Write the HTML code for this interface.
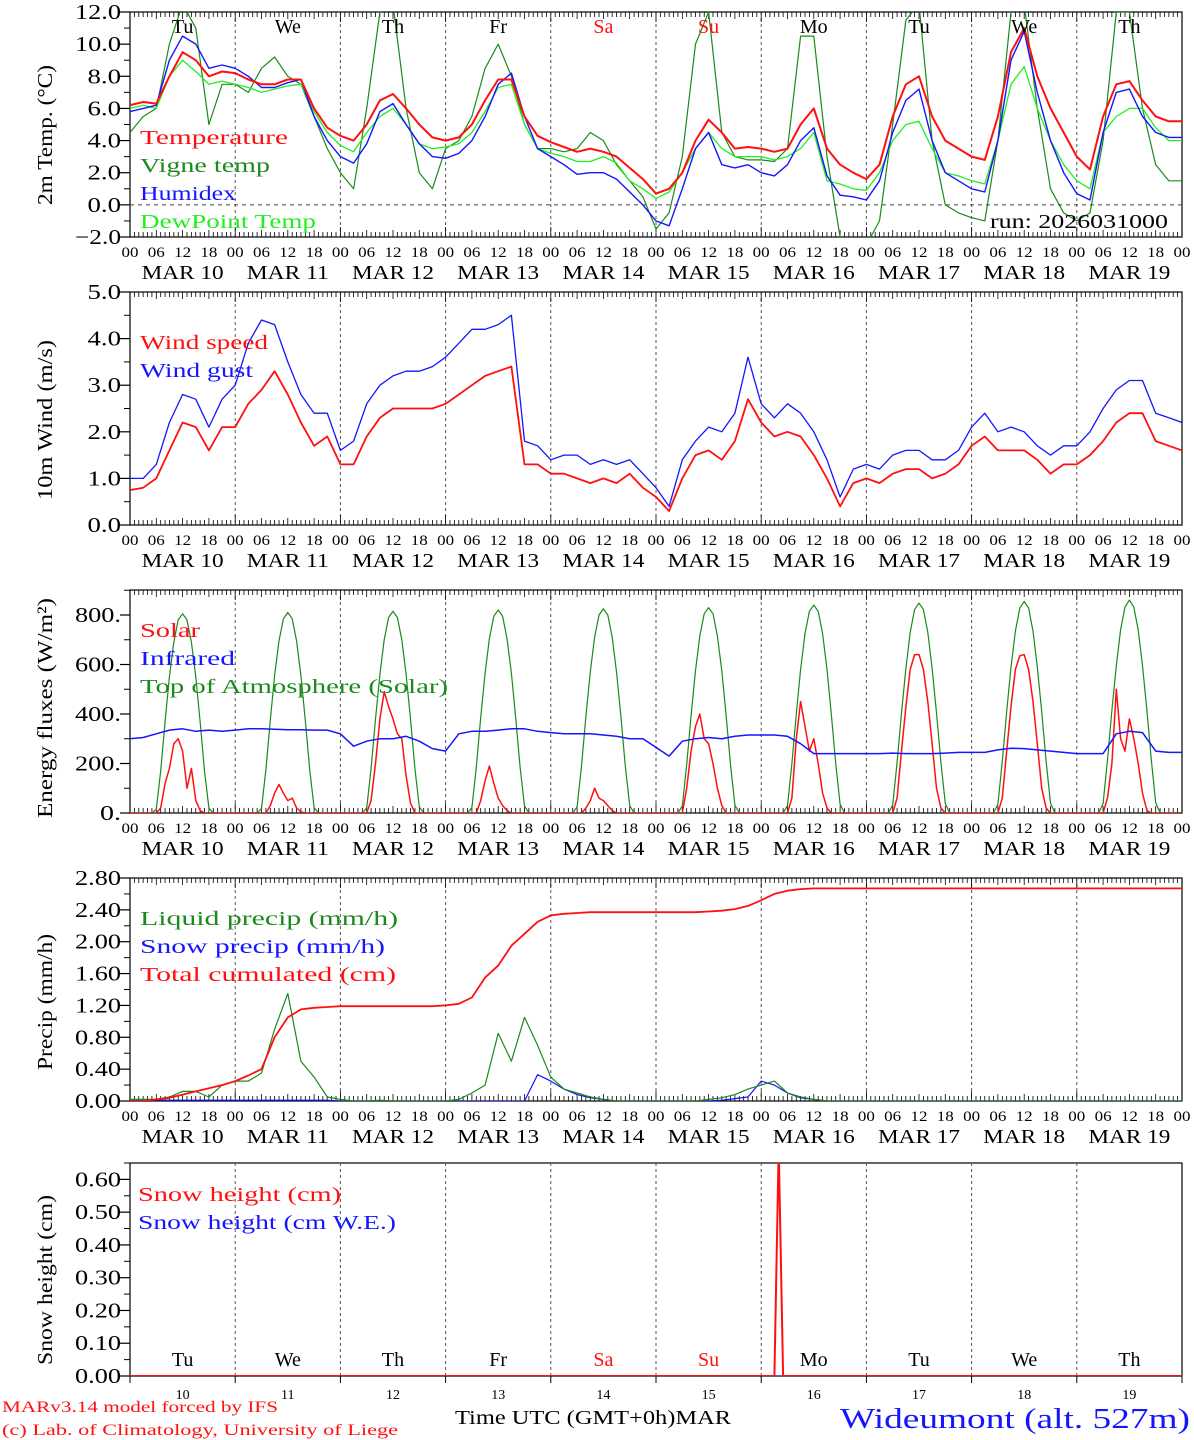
<!DOCTYPE html>
<html><head><meta charset="utf-8"><style>
html,body{margin:0;padding:0;background:#fff}
svg{display:block;font-family:"Liberation Serif",serif}
</style></head><body>
<svg id="c" width="1194" height="1440" viewBox="0 0 1194 1440" xmlns="http://www.w3.org/2000/svg"></svg>
<script>
// ---- data (3-hourly, starting MAR 10 00 UTC) ----
const dayNames=["Tu","We","Th","Fr","Sa","Su","Mo","Tu","We","Th"];
const dayNums=["10","11","12","13","14","15","16","17","18","19"];
const temp=[6.2,6.4,6.3,8.0,9.5,9.0,8.0,8.3, 8.2,7.8,7.5,7.5,7.8,7.8,6.0,4.8, 4.3,4.0,5.0,6.5,6.9,6.0,5.0,4.2, 4.0,4.2,5.0,6.5,7.8,7.8,5.5,4.3, 3.9,3.6,3.3,3.5,3.3,3.0,2.3,1.6, 0.7,1.0,2.0,4.0,5.3,4.5,3.5,3.6, 3.5,3.3,3.5,5.0,6.0,3.5,2.5,2.0, 1.6,2.5,5.5,7.5,8.0,5.5,4.0,3.5, 3.0,2.8,5.5,9.5,11.0,8.0,6.0,4.5, 3.0,2.2,5.5,7.5,7.7,6.5,5.5,5.2,5.2];
const vigne=[4.5,5.5,6.0,10.0,12.5,11.0,5.0,7.5, 7.5,7.0,8.5,9.2,8.0,7.5,5.5,3.5, 2.0,1.0,6.0,12.0,12.5,6.0,2.0,1.0, 3.5,4.0,5.5,8.5,10.0,8.0,5.0,3.5, 3.5,3.3,3.5,4.5,4.0,2.5,1.5,0.5, -1.5,-0.5,3.0,10.0,12.0,4.5,3.0,2.8, 2.8,2.7,3.5,10.5,10.5,3.0,-2.0,-2.5, -2.5,-1.0,5.0,11.5,12.5,4.0,0.0,-0.5, -0.8,-1.0,4.0,12.0,12.5,6.0,1.0,-0.5, -1.0,-0.5,4.0,12.0,12.0,6.0,2.5,1.5,1.5];
const humidex=[5.8,6.0,6.2,9.0,10.5,10.0,8.5,8.7, 8.5,8.0,7.3,7.3,7.6,7.8,5.5,4.0, 3.0,2.6,3.8,5.8,6.3,5.0,3.8,3.0, 2.9,3.2,4.0,5.5,7.5,8.2,5.5,3.5, 3.0,2.5,1.9,2.0,2.0,1.6,0.8,0.0, -1.0,-1.3,1.0,3.5,4.5,2.5,2.3,2.5, 2.0,1.8,2.5,4.0,4.8,1.8,0.6,0.5, 0.3,1.5,4.5,6.5,7.2,4.0,2.0,1.5, 1.0,0.8,4.0,9.0,10.8,7.0,4.0,2.0, 0.7,0.3,4.5,7.0,7.2,5.5,4.5,4.2,4.2];
const dewpoint=[6.0,6.2,6.0,8.0,9.0,8.3,7.5,7.7, 7.5,7.3,7.0,7.2,7.4,7.5,5.8,4.5, 3.7,3.3,4.5,5.5,6.0,5.0,3.8,3.5, 3.6,3.8,4.5,5.8,7.3,7.5,5.0,3.5, 3.2,3.0,2.7,2.7,3.0,2.6,1.5,1.0, 0.4,0.8,2.0,3.5,4.5,3.5,3.0,3.0, 3.0,2.8,3.0,3.5,4.5,1.5,1.3,1.0, 0.9,2.0,4.0,5.0,5.2,3.5,2.0,1.8, 1.5,1.3,4.0,7.5,8.6,6.0,4.0,2.5, 1.5,1.0,4.5,5.5,6.0,6.0,4.8,4.0,4.0];
const windSpeed=[0.75,0.8,1.0,1.6,2.2,2.1,1.6,2.1, 2.1,2.6,2.9,3.3,2.8,2.2,1.7,1.9, 1.3,1.3,1.9,2.3,2.5,2.5,2.5,2.5, 2.6,2.8,3.0,3.2,3.3,3.4,1.3,1.3, 1.1,1.1,1.0,0.9,1.0,0.9,1.1,0.8, 0.6,0.3,1.0,1.5,1.6,1.4,1.8,2.7, 2.2,1.9,2.0,1.9,1.5,1.0,0.4,0.9, 1.0,0.9,1.1,1.2,1.2,1.0,1.1,1.3, 1.7,1.9,1.6,1.6,1.6,1.4,1.1,1.3, 1.3,1.5,1.8,2.2,2.4,2.4,1.8,1.7,1.6];
const windGust=[1.0,1.0,1.3,2.2,2.8,2.7,2.1,2.7, 3.0,3.9,4.4,4.3,3.5,2.8,2.4,2.4, 1.6,1.8,2.6,3.0,3.2,3.3,3.3,3.4, 3.6,3.9,4.2,4.2,4.3,4.5,1.8,1.7, 1.4,1.5,1.5,1.3,1.4,1.3,1.4,1.1, 0.8,0.4,1.4,1.8,2.1,2.0,2.4,3.6, 2.6,2.3,2.6,2.4,2.0,1.4,0.6,1.2, 1.3,1.2,1.5,1.6,1.6,1.4,1.4,1.6, 2.1,2.4,2.0,2.1,2.0,1.7,1.5,1.7, 1.7,2.0,2.5,2.9,3.1,3.1,2.4,2.3,2.2];
const infrared=[300,305,320,335,340,330,335,330, 335,340,340,338,336,336,335,335, 320,270,290,300,300,310,290,260, 250,320,330,330,335,340,340,330, 325,320,320,320,315,310,300,300, 265,230,290,300,305,300,310,315, 315,315,310,280,240,240,240,240, 240,240,242,240,240,240,242,245, 245,245,255,262,260,255,250,245, 240,240,240,320,330,325,250,245,245];
const liquid=[0.02,0.02,0.02,0.05,0.12,0.12,0.05,0.2, 0.25,0.25,0.35,0.9,1.35,0.5,0.3,0.05, 0.02,0,0,0.01,0,0,0,0, 0,0.02,0.1,0.2,0.85,0.5,1.05,0.7, 0.3,0.15,0.1,0.05,0.02,0,0,0, 0,0,0,0,0.02,0.04,0.08,0.15, 0.2,0.25,0.1,0.05,0.02,0,0,0, 0,0,0,0,0,0,0,0, 0,0,0,0,0,0,0,0, 0,0,0,0,0,0,0,0,0];
const snowPrecip=[0.01,0.01,0.01,0.01,0.01,0.01,0.01,0.01, 0.01,0.01,0.01,0.01,0.01,0.01,0.01,0.01, 0,0,0,0,0,0,0,0, 0,0,0,0,0,0,0,0.33, 0.25,0.15,0.08,0.04,0.02,0,0,0, 0,0,0,0,0,0.01,0.03,0.05, 0.25,0.2,0.1,0.04,0.02,0,0,0, 0,0,0,0,0,0,0,0, 0,0,0,0,0,0,0,0, 0,0,0,0,0,0,0,0,0];
const cumul=[0,0,0.02,0.04,0.08,0.12,0.16,0.2, 0.25,0.32,0.4,0.8,1.05,1.15,1.17,1.18, 1.19,1.19,1.19,1.19,1.19,1.19,1.19,1.19, 1.2,1.22,1.3,1.55,1.7,1.95,2.1,2.25, 2.33,2.35,2.36,2.37,2.37,2.37,2.37,2.37, 2.37,2.37,2.37,2.37,2.38,2.39,2.41,2.45, 2.52,2.6,2.64,2.66,2.67,2.67,2.67,2.67, 2.67,2.67,2.67,2.67,2.67,2.67,2.67,2.67, 2.67,2.67,2.67,2.67,2.67,2.67,2.67,2.67, 2.67,2.67,2.67,2.67,2.67,2.67,2.67,2.67,2.67];
// hourly TOA & solar, one row per day (hours 0..23)
const toa=[
[0,0,0,0,0,0,15,170,370,550,690,780,805,780,690,550,370,170,20,0,0,0,0,0],
[0,0,0,0,0,0,18,175,375,555,695,785,810,785,695,555,375,175,22,0,0,0,0,0],
[0,0,0,0,0,0,20,180,380,560,700,790,815,790,700,560,380,180,25,0,0,0,0,0],
[0,0,0,0,0,0,22,185,385,565,705,795,820,795,705,565,385,185,28,0,0,0,0,0],
[0,0,0,0,0,0,25,190,390,570,710,800,825,800,710,570,390,190,30,0,0,0,0,0],
[0,0,0,0,0,0,28,195,395,575,715,805,830,805,715,575,395,195,32,0,0,0,0,0],
[0,0,0,0,0,0,30,200,400,580,725,815,840,815,725,580,400,200,35,0,0,0,0,0],
[0,0,0,0,0,0,32,205,405,585,730,822,848,822,730,585,405,205,38,0,0,0,0,0],
[0,0,0,0,0,0,35,210,410,590,735,828,855,828,735,590,410,210,40,0,0,0,0,0],
[0,0,0,0,0,0,38,215,415,595,740,832,860,832,740,595,415,215,42,0,0,0,0,0]];
const solar=[
[0,0,0,0,0,0,0,20,120,180,280,300,250,100,180,50,10,0,0,0,0,0,0,0],
[0,0,0,0,0,0,0,0,30,80,115,80,50,60,20,5,0,0,0,0,0,0,0,0],
[0,0,0,0,0,0,0,50,200,380,490,430,380,320,300,150,40,0,0,0,0,0,0,0],
[0,0,0,0,0,0,0,0,50,130,190,120,60,30,10,0,0,0,0,0,0,0,0,0],
[0,0,0,0,0,0,0,0,20,50,100,60,50,30,10,0,0,0,0,0,0,0,0,0],
[0,0,0,0,0,0,0,100,250,350,400,300,280,200,100,30,0,0,0,0,0,0,0,0],
[0,0,0,0,0,0,0,60,300,450,350,250,300,200,80,20,0,0,0,0,0,0,0,0],
[0,0,0,0,0,0,0,60,250,430,580,640,640,580,450,280,100,20,0,0,0,0,0,0],
[0,0,0,0,0,0,0,60,250,430,580,635,640,580,450,280,100,20,0,0,0,0,0,0],
[0,0,0,0,0,0,0,60,200,500,300,250,380,300,200,80,10,0,0,0,0,0,0,0]];
const snowHours=[0,147,148,149,240];
const snowHeight=[0,0,0.7,0,0];

// ---- rendering ----
const NS="http://www.w3.org/2000/svg";
const svg=document.getElementById('c');
const X0=130,X1=1182,H=240;
const xs=h=>X0+h*(X1-X0)/H;
function el(tag,attrs,parent){const e=document.createElementNS(NS,tag);for(const k in attrs)e.setAttribute(k,attrs[k]);(parent||svg).appendChild(e);return e;}
function txt(s,x,y,size,fill,anchor,parent,len){const a={x:x,y:y,'font-size':size,fill:fill||'#000','text-anchor':anchor||'start'};if(len){a.textLength=len;a.lengthAdjust='spacingAndGlyphs';}const t=el('text',a,parent);t.textContent=s;return t;}
let clipN=0;
function panel(o){
  const g=el('g',{});
  
  
  const ys=v=>o.bot-(v-o.ymin)*(o.bot-o.top)/(o.ymax-o.ymin);
  el('rect',{x:X0,y:o.top,width:X1-X0,height:o.bot-o.top,fill:'none',stroke:'#000','stroke-width':1.2},g);
  for(let d=1;d<10;d++){const x=xs(d*24);el('line',{x1:x,y1:o.top,x2:x,y2:o.bot,stroke:'#555','stroke-width':1,'stroke-dasharray':'3,3'},g);}
  for(let h=0;h<=240;h++){const x=xs(h);const L=(h%6==0)?(h%24==0?10:7):5;
    if(o.topTicks!==false)el('line',{x1:x,y1:o.top,x2:x,y2:o.top+L,stroke:'#000','stroke-width':0.8},g);
    if(o.hourLabels!==false)el('line',{x1:x,y1:o.bot,x2:x,y2:o.bot-L,stroke:'#000','stroke-width':0.8},g);}
  o.yticks.forEach((v,i)=>{const y=ys(v);el('line',{x1:X0-10,y1:y,x2:X0,y2:y,stroke:'#000','stroke-width':1.2},g);
    const s=o.ylabels[i];
    txt(s,X0-9,y+7,21,'#000','end',g,s.length*12.5-(s.includes('.')?4:0));
    if(o.minor){const ym=ys(v+o.minor);if(ym>=o.top-0.5)el('line',{x1:X0-6,y1:ym,x2:X0,y2:ym,stroke:'#000','stroke-width':1},g);}});
  const tt=txt(o.title,0,0,21,'#000','middle',g,o.titleLen);tt.setAttribute('transform',`translate(52,${o.titleY||(o.top+o.bot)/2}) rotate(-90)`);
  
  if(o.hourLabels!==false){
    for(let d=0;d<10;d++){["00","06","12","18"].forEach((s,k)=>txt(s,xs(d*24+k*6),o.bot+20,15,'#000','middle',g,17));
      txt("MAR "+dayNums[d],xs(d*24+12),o.bot+42,20,'#000','middle',g,82);}
    txt("00",xs(240),o.bot+20,15,'#000','middle',g,17);
  }
  const id='cl'+(clipN++);const cp=el('clipPath',{id:id},g);el('rect',{x:X0,y:o.top,width:X1-X0,height:o.bot-o.top},cp);
  const sg=el('g',{'clip-path':`url(#${id})`},g);
  return {g:g,sg:sg,ys:ys};
}
function series(p,vals,step,color,w,name,times){
  let d='';vals.forEach((v,i)=>{const h=times?times[i]:i*step;d+=(i?'L':'M')+xs(h).toFixed(1)+','+p.ys(v).toFixed(1);});
  const pa=el('path',{d:d,fill:'none',stroke:color,'stroke-width':w,'stroke-linejoin':'round'},p.sg);
  
  
}
function legend(items,x,y0,p){items.forEach((it,i)=>{const t=txt(it[0],x,y0+i*28,20,it[1],'start',p.g,it[2]);
  
  });}

const p1=panel({name:'temperature-panel',top:12,bot:237,ymin:-2,ymax:12,yticks:[-2,0,2,4,6,8,10,12],ylabels:['−2.0','0.0','2.0','4.0','6.0','8.0','10.0','12.0'],minor:1,title:'2m Temp. (°C)',titleLen:140,titleY:135});
el('line',{x1:X0,y1:p1.ys(0),x2:X1,y2:p1.ys(0),stroke:'#444','stroke-width':1,'stroke-dasharray':'4,4'},p1.g);
series(p1,vigne,3,'#1a8a1a',1.2,'vigne-temp-line');
series(p1,dewpoint,3,'#22ee22',1.3,'dewpoint-line');
series(p1,humidex,3,'#1515ff',1.4,'humidex-line');
series(p1,temp,3,'#ff1010',2,'temperature-line');
dayNames.forEach((s,d)=>txt(s,xs(d*24+12),33,20,(d==4||d==5)?'#ff1010':'#000','middle',p1.g));
legend([['Temperature','#ff1010',148],['Vigne temp','#1a8a1a',130],['Humidex','#1515ff',96],['DewPoint Temp','#22ee22',176]],140,144,p1);
txt('run: 2026031000',1168,228,20,'#000','end',p1.g,178);

const p2=panel({name:'wind-panel',top:292,bot:525,ymin:0,ymax:5,yticks:[0,1,2,3,4,5],ylabels:['0.0','1.0','2.0','3.0','4.0','5.0'],minor:0.5,title:'10m Wind (m/s)',titleLen:160,titleY:420});
series(p2,windGust,3,'#1515ff',1.3,'wind-gust-line');
series(p2,windSpeed,3,'#ff1010',1.8,'wind-speed-line');
legend([['Wind speed','#ff1010',128],['Wind gust','#1515ff',113]],140,349,p2);

const p3=panel({name:'energy-panel',top:590,bot:813,ymin:0,ymax:901,yticks:[0,200,400,600,800],ylabels:['0.','200.','400.','600.','800.'],minor:100,title:'Energy fluxes (W/m²)',titleLen:220,titleY:708});
const toaFlat=[].concat(...toa),solarFlat=[].concat(...solar);
series(p3,toaFlat,1,'#1a8a1a',1.2,'toa-solar-line');
series(p3,solarFlat,1,'#ff1010',1.5,'solar-line');
series(p3,infrared,3,'#1515ff',1.5,'infrared-line');
legend([['Solar','#ff1010',60],['Infrared','#1515ff',95],['Top of Atmosphere (Solar)','#1a8a1a',308]],140,637,p3);

const p4=panel({name:'precip-panel',top:878,bot:1101,ymin:0,ymax:2.8,yticks:[0,0.4,0.8,1.2,1.6,2.0,2.4,2.8],ylabels:['0.00','0.40','0.80','1.20','1.60','2.00','2.40','2.80'],minor:0.2,title:'Precip (mm/h)',titleLen:136,titleY:1002});
series(p4,snowPrecip,3,'#1515ff',1.2,'snow-precip-line');
series(p4,liquid,3,'#1a8a1a',1.2,'liquid-precip-line');
series(p4,cumul,3,'#ff1010',1.8,'cumulated-precip-line');
legend([['Liquid precip (mm/h)','#1a8a1a',258],['Snow precip (mm/h)','#1515ff',245],['Total cumulated (cm)','#ff1010',256]],140,925,p4);

const p5=panel({name:'snow-panel',top:1163,bot:1376,ymin:0,ymax:0.65,yticks:[0,0.1,0.2,0.3,0.4,0.5,0.6],ylabels:['0.00','0.10','0.20','0.30','0.40','0.50','0.60'],minor:0.05,title:'Snow height (cm)',titleLen:170,titleY:1280,hourLabels:false,topTicks:false});
series(p5,[0,0],240,'#1515ff',1.2,'snow-we-line',[0,240]);
series(p5,snowHeight,1,'#ff1010',2,'snow-height-line',snowHours);
dayNames.forEach((s,d)=>txt(s,xs(d*24+12),1366,20,(d==4||d==5)?'#ff1010':'#000','middle',p5.g));
dayNums.forEach((s,d)=>txt(s,xs(d*24+12),1399,14,'#000','middle',p5.g));
for(let d=0;d<=10;d++){const x=xs(d*24);el('line',{x1:x,y1:1376,x2:x,y2:1383,stroke:'#000','stroke-width':1},p5.g);}
legend([['Snow height (cm)','#ff1010',203],['Snow height (cm W.E.)','#1515ff',258]],138,1201,p5);

txt('MARv3.14 model forced by IFS',2,1412,16,'#ff1010','start',svg,276);
txt('(c) Lab. of Climatology, University of Liege',2,1435,16,'#ff1010','start',svg,396);
const xt=txt('Time UTC (GMT+0h)MAR',455,1424,20,'#000','start',svg,276);

const st=txt('Wideumont (alt. 527m)',840,1428,28,'#1515ff','start',svg,350);

</script>
</body></html>
